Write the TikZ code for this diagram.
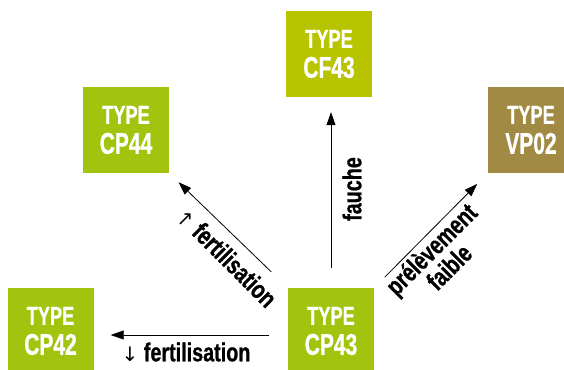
\documentclass[tikz,border=0pt]{standalone}
\usepackage{fontspec}
\setmainfont{Liberation Sans}[FakeStretch=0.76, BoldFeatures={FakeBold=0.8}]
\newfontfamily\boxfont{Liberation Sans}[FakeStretch=0.7, BoldFeatures={FakeBold=0.8}]
\newfontfamily\arrowfont{DejaVu Sans}
\usetikzlibrary{arrows.meta}
\definecolor{grassgreen}{HTML}{A3C40F}
\definecolor{limegreen}{HTML}{B8C400}
\definecolor{olivebrown}{HTML}{A08A44}

\begin{document}
\begin{tikzpicture}[x=1pt, y=-1pt,
    typebox/.style={fill=grassgreen, text=white, font=\boxfont\bfseries\fontsize{26}{30}\selectfont,
      minimum width=86pt, minimum height=86pt, inner sep=0pt, align=center},
    link/.style={-{Triangle[length=13pt,width=9pt]}, line width=0.8pt},
    linklabel/.style={font=\bfseries\fontsize{26}{23}\selectfont, inner sep=0pt, align=center}]
    \useasboundingbox (0,0) rectangle (564,369);
    % Nodes
    \node[typebox] (CP43) at (331,331) {TYPE\\{\fontsize{30}{30}\selectfont CP43}};
    \node[typebox] (CP42) at (50.5,331) {TYPE\\{\fontsize{30}{30}\selectfont CP42}};
    \node[typebox] (CP44) at (126,130) {TYPE\\{\fontsize{30}{30}\selectfont CP44}};
    \node[typebox, fill=limegreen] (CF43) at (329,54) {TYPE\\{\fontsize{30}{30}\selectfont CF43}};
    \node[typebox, fill=olivebrown] (VP02) at (531,130) {TYPE\\{\fontsize{30}{30}\selectfont VP02}};
    % Edges
    \draw[link, shorten <=20pt, shorten >=15pt] (CP43.north) -- (CP43.north |- CF43.south);
    \draw[link, shorten <=23pt, shorten >=13pt] (CP43.north west) -- (CP44.south east);
    \draw[link, shorten <=15pt, shorten >=15pt] (CP43.north east) -- (VP02.south west);
    \draw[link, shorten <=19pt, shorten >=17pt] ([yshift=-4pt]CP43.west) -- ([yshift=-4pt]CP42.east);
    % Labels
    \node[linklabel, rotate=90] (mowing) at (352,189) {fauche};
    \node[linklabel, rotate=-45] (fertup) at (227,257) {{\arrowfont\mdseries\fontsize{20}{23}\selectfont ↑} fertilisation};
    \node[linklabel, rotate=45] (uptake) at (440,258) {prélèvement\\faible};
    \node[linklabel] (fertdown) at (186,352) {{\arrowfont\mdseries\fontsize{20}{23}\selectfont ↓} fertilisation};
\end{tikzpicture}
\end{document}
